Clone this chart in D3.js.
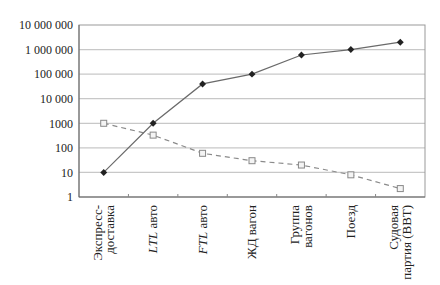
<!DOCTYPE html>
<html>
<head>
<meta charset="utf-8">
<script src="https://cdn.jsdelivr.net/npm/d3@7"></script>
<style>
  body { margin: 0; background: #fff; }
  text { font-family: "Liberation Serif", "DejaVu Serif", serif; fill: #222; }
</style>
</head>
<body>
<div id="chart"></div>
<script>
(function lineChart() {

  // categories, each label split in lines; italic parts marked
  var categories = ["Экспресс-доставка", "LTL авто", "FTL авто", "ЖД вагон", "Группа вагонов", "Поезд", "Судовая партия (ВВТ)"];
  var labelLines = [
    ["Экспресс-", "доставка"],
    ["<i>LTL</i> авто"],
    ["<i>FTL</i> авто"],
    ["ЖД вагон"],
    ["Группа", "вагонов"],
    ["Поезд"],
    ["Судовая", "партия (ВВТ)"]
  ];
  var solidValues = [10, 1000, 40000, 100000, 600000, 1000000, 2000000];
  var dashedValues = [1000, 330, 60, 30, 20, 8, 2.2];
  var yTicks = [1, 10, 100, 1000, 10000, 100000, 1000000, 10000000];
  var yTickLabels = ["1", "10", "100", "1000", "10 000", "100 000", "1 000 000", "10 000 000"];

  var margin = {top: 25, right: 15, bottom: 88, left: 79},
      width = 440 - margin.left - margin.right,
      height = 285 - margin.top - margin.bottom;

  var x = d3.scaleBand()
      .domain(categories)
      .range([0, width]);

  var y = d3.scaleLog()
      .domain([1, 10000000])
      .range([height, 0]);

  var svg = d3.select("#chart").append("svg")
      .attr("width", 440)
      .attr("height", 285)
    .append("g")
      .attr("transform", "translate(" + margin.left + "," + margin.top + ")");

  // gridlines
  svg.selectAll(".grid")
      .data(yTicks.slice(1, -1))
    .enter().append("line")
      .attr("class", "grid")
      .attr("x1", 0)
      .attr("x2", width)
      .attr("y1", function(d) { return y(d); })
      .attr("y2", function(d) { return y(d); })
      .style("stroke", "#c8c8c8")
      .style("stroke-width", 1.2);

  // frame
  svg.append("rect")
      .attr("width", width)
      .attr("height", height)
      .style("fill", "none")
      .style("stroke", "#999")
      .style("stroke-width", 1);

  svg.append("line")
      .attr("x1", 0).attr("x2", 0)
      .attr("y1", 0).attr("y2", height)
      .style("stroke", "#666");
  svg.append("line")
      .attr("x1", 0).attr("x2", width)
      .attr("y1", height).attr("y2", height)
      .style("stroke", "#666");

  // y labels
  var yAxis = svg.append("g")
      .call(d3.axisLeft(y).tickValues(yTicks)
        .tickFormat(function(d, i) { return yTickLabels[i]; })
        .tickSize(0).tickPadding(6))
      .attr("font-family", "'Liberation Serif', serif")
      .attr("font-size", 12);
  yAxis.select(".domain").remove();
  yAxis.selectAll("text")
      .style("font-family", "'Liberation Serif', serif")
      .style("font-size", "12px")
      .style("fill", "#222");

  // small x ticks between categories, pointing up
  svg.selectAll(".xtick")
      .data(categories.slice(1))
    .enter().append("line")
      .attr("class", "xtick")
      .attr("x1", function(d) { return x(d); })
      .attr("x2", function(d) { return x(d); })
      .attr("y1", height)
      .attr("y2", height - 3)
      .style("stroke", "#888");

  // x labels, rotated
  var lab = svg.selectAll(".xlabel")
      .data(categories)
    .enter().append("text")
      .attr("class", "xlabel")
      .attr("transform", function(d) {
        return "translate(" + (x(d) + x.bandwidth() / 2) + "," + (height + 8) + ") rotate(-90)";
      })
      .style("text-anchor", "end")
      .style("font-size", "13px");

  lab.each(function(d, i) {
    var lines = labelLines[i];
    var t = d3.select(this);
    var offset = lines.length === 1 ? 4 : -2;
    lines.forEach(function(line, k) {
      var ts = t.append("tspan")
          .attr("x", 0)
          .attr("y", offset + k * 12.5);
      var m = line.match(/^<i>(.*)<\/i>(.*)$/);
      if (m) {
        ts.append("tspan").style("font-style", "italic").text(m[1]);
        ts.append("tspan").text(m[2]);
      } else {
        ts.text(line);
      }
    });
  });

  var cx = function(d, i) { return x(categories[i]) + x.bandwidth() / 2; };

  var line = d3.line()
      .x(cx)
      .y(function(d) { return y(d); });

  // dashed series
  svg.append("path")
      .datum(dashedValues)
      .attr("d", line)
      .style("fill", "none")
      .style("stroke", "#8a8a8a")
      .style("stroke-width", 1.2)
      .style("stroke-dasharray", "5,4");

  svg.selectAll(".sq")
      .data(dashedValues)
    .enter().append("rect")
      .attr("class", "sq")
      .attr("x", function(d, i) { return cx(d, i) - 3; })
      .attr("y", function(d) { return y(d) - 3; })
      .attr("width", 6)
      .attr("height", 6)
      .style("fill", "#f4f4f4")
      .style("stroke", "#888")
      .style("stroke-width", 1);

  // solid series
  svg.append("path")
      .datum(solidValues)
      .attr("d", line)
      .style("fill", "none")
      .style("stroke", "#6a6a6a")
      .style("stroke-width", 1.2);

  svg.selectAll(".dm")
      .data(solidValues)
    .enter().append("path")
      .attr("class", "dm")
      .attr("transform", function(d, i) { return "translate(" + cx(d, i) + "," + y(d) + ") rotate(45)"; })
      .attr("d", d3.symbol().type(d3.symbolSquare).size(24))
      .style("fill", "#222");

}());
</script>
</body>
</html>
